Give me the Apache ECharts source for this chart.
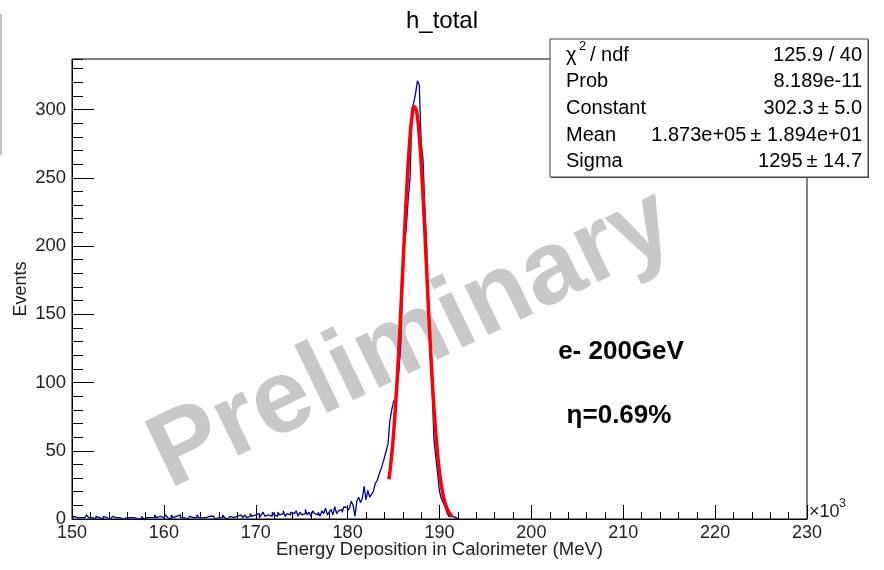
<!DOCTYPE html>
<html><head><meta charset="utf-8">
<script src="https://cdn.jsdelivr.net/npm/echarts/dist/echarts.min.js"></script>
<style>html,body{margin:0;padding:0;background:#fff}#c{width:884px;height:570px}</style>
</head><body><div id="c"></div>
<script>
// histogram: bins of width 0.2 (x10^3 MeV) starting at 150
const binStart = 150;
const binWidth = 0.2;
const counts = [
  1,2,1,0,1,2,1,0,3,1,      // 150-152
  1,0,0,2,1,1,0,2,1,1,      // 152-154
  0,1,2,1,1,1,2,0,1,1,      // 154-156
  2,1,0,1,1,0,1,0,2,0,      // 156-158
  1,0,1,2,1,3,1,2,1,1,      // 158-160
  2,3,1,0,3,1,2,1,3,1,      // 160-162
  1,2,0,1,2,1,0,1,3,1,      // 162-164
  1,2,1,0,2,1,2,1,0,1,      // 164-166
  2,1,3,1,0,1,2,1,2,2,      // 166-168
  1,3,2,1,3,1,2,4,2,3,      // 168-170
  2,4,1,3,5,2,3,4,2,5,      // 170-172
  3,2,5,3,4,6,2,4,3,5,      // 172-174
  4,3,6,2,5,3,4,7,3,5,      // 174-176
  2,6,4,3,5,2,6,4,8,3,      // 176-178
  5,7,3,9,4,6,7,5,9,8,      // 178-180
  6,8,13,10,2,13,16,12,15,24, // 180-182
  14,21,16,18,20,26,28,32,36,40, // 182-184
  45,50,55,72,80,86,88,98,110,130, // 184-186
  175,202,215,235,250,300,305,312,321,318, // 186-188
  276,264,228,200,148,120,95,58,45,33, // 188-190
  20,15,12,9,5,2,2,1,1,0    // 190-192
];
// Gaussian fit curve
const fitX = [184.5,184.75,185,185.25,185.5,185.75,186,186.25,186.5,186.75,187,187.25,187.5,187.75,188,188.25,188.5,188.75,189,189.25,189.5,189.75,190,190.25,190.5,190.75,191,191.25,191.4];
const fitY = [29.2,43.5,62.5,86.4,115.1,147.7,182.6,217.6,249.8,276.2,294.3,302.1,298.7,284.6,261.2,231.0,196.8,161.5,127.7,97.3,71.4,50.5,34.4,22.6,14.3,8.7,5.1,2.9,2.0];

const statLabels = ['Prob','Constant','Mean','Sigma'];
const statValues = ['125.9 / 40','8.189e-11','302.3\u2009\u00b1 5.0','1.873e+05\u2009\u00b1 1.894e+01','1295\u2009\u00b1 14.7'];
const titleText = 'h_total';
const xName = 'Energy Deposition in Calorimeter (MeV)';
const yName = 'Events';
const note1 = 'e- 200GeV';
const note2 = '\u03b7=0.69%';
const watermark = 'Preliminary';

const FONT = '"Liberation Sans", Arial, sans-serif';

const histData = [[binStart, 0]];
counts.forEach((c, i) => histData.push([binStart + i * binWidth, c]));
histData.push([binStart + counts.length * binWidth, 0]);
const fitData = fitX.map((x, i) => [x, fitY[i]]);

const chart = echarts.init(document.getElementById('c'), null, {renderer: 'canvas'});

const boxL = 550, boxT = 39, boxW = 318, boxH = 138;
const rowY = [55, 81, 108, 135, 161];
const SF = 20;
const statGraphics = [
  {type:'rect', z:99, shape:{x:boxL+1, y:boxT+1, width:boxW, height:boxH}, style:{fill:'#444'}},
  {type:'rect', z:100, shape:{x:boxL, y:boxT, width:boxW, height:boxH}, style:{fill:'#fff', stroke:'#444', lineWidth:1}},
  {type:'text', z:101, x:566, y:rowY[0], style:{text:'\u03c7', fontSize:SF, fontFamily:FONT, fill:'#000', verticalAlign:'middle'}},
  {type:'text', z:101, x:579, y:rowY[0]-9, style:{text:'2', fontSize:13, fontFamily:FONT, fill:'#000', verticalAlign:'middle'}},
  {type:'text', z:101, x:590, y:rowY[0], style:{text:'/ ndf', fontSize:SF, fontFamily:FONT, fill:'#000', verticalAlign:'middle'}}
];
statLabels.forEach((t, i) => statGraphics.push({type:'text', z:101, x:566, y:rowY[i+1], style:{text:t, fontSize:SF, fontFamily:FONT, fill:'#000', verticalAlign:'middle'}}));
statValues.forEach((t, i) => statGraphics.push({type:'text', z:101, x:862, y:rowY[i], style:{text:t, fontSize:SF, fontFamily:FONT, fill:'#000', align:'right', verticalAlign:'middle'}}));

chart.setOption({
  animation: false,
  backgroundColor: '#fff',
  title: {text: titleText, left: 'center', top: 4, textStyle: {fontSize: 24, fontWeight: 'normal', color: '#000', fontFamily: FONT}},
  grid: {left: 72, right: 77, top: 59, bottom: 51, show: true, borderColor: '#000', borderWidth: 1, backgroundColor: 'transparent', containLabel: false, outerBoundsMode: 'none'},
  xAxis: {
    type: 'value', min: 150, max: 230, interval: 10, position: 'bottom',
    axisLine: {show: true, onZero: false, lineStyle: {color: '#000', width: 1}},
    axisTick: {show: true, inside: true, length: 14, lineStyle: {color: '#000'}},
    minorTick: {show: true, splitNumber: 5, length: 7, lineStyle: {color: '#000'}},
    axisLabel: {color: '#222', fontSize: 18, margin: 5, fontFamily: FONT},
    splitLine: {show: false}, minorSplitLine: {show: false},
    name: xName, nameLocation: 'middle', nameGap: 21, nameMoveOverlap: false,
    nameTextStyle: {fontSize: 18.5, color: '#222', fontFamily: FONT}
  },
  yAxis: [{
    type: 'value', min: 0, max: 337, interval: 50, position: 'left',
    axisLine: {show: true, onZero: false, lineStyle: {color: '#000', width: 1}},
    axisTick: {show: true, inside: true, length: 22, lineStyle: {color: '#000'}},
    axisLabel: {color: '#222', fontSize: 18.5, margin: 6, fontFamily: FONT, showMaxLabel: false},
    splitLine: {show: false},
    name: yName, nameLocation: 'middle', nameGap: 42, nameRotate: 90, nameMoveOverlap: false,
    nameTextStyle: {fontSize: 18, color: '#222', fontFamily: FONT}
  }, {
    type: 'value', min: 0, max: 337, interval: 10, position: 'left',
    axisLine: {show: false},
    axisTick: {show: true, inside: true, length: 11, lineStyle: {color: '#000'}},
    axisLabel: {show: false}, splitLine: {show: false}
  }],
  series: [{
    type: 'line', name: 'h_total', data: histData, step: 'end', yAxisIndex: 0,
    showSymbol: false, symbol: 'none', z: 3,
    lineStyle: {color: '#000099', width: 1.3}
  }, {
    type: 'line', name: 'fit', data: fitData, smooth: true, yAxisIndex: 0,
    showSymbol: false, symbol: 'none', z: 4,
    lineStyle: {color: '#ff0000', width: 3.5}
  }],
  graphic: [
    {type: 'line', z: 1, shape: {x1: 1, y1: 14, x2: 1, y2: 155}, style: {stroke: '#b0b0b0', lineWidth: 1.5}},
    {type: 'text', z: 1, x: 412, y: 340, rotation: 0.45, style: {text: watermark, fontSize: 104, fontWeight: 'bold', fontFamily: FONT, fill: '#c8c8c8', align: 'center', verticalAlign: 'middle'}},
    {type: 'text', z: 5, x: 621, y: 352, style: {text: note1, fontSize: 26, fontWeight: 'bold', fontFamily: FONT, fill: '#000', align: 'center', verticalAlign: 'middle'}},
    {type: 'text', z: 5, x: 619, y: 416, style: {text: note2, fontSize: 26, fontWeight: 'bold', fontFamily: FONT, fill: '#000', align: 'center', verticalAlign: 'middle'}},
    {type: 'text', z: 5, x: 809, y: 512, style: {text: '\u00d710', fontSize: 18, fontFamily: FONT, fill: '#222', verticalAlign: 'middle'}},
    {type: 'text', z: 5, x: 839, y: 504, style: {text: '3', fontSize: 12.5, fontFamily: FONT, fill: '#222', verticalAlign: 'middle'}}
  ].concat(statGraphics)
});
</script>
</body></html>
